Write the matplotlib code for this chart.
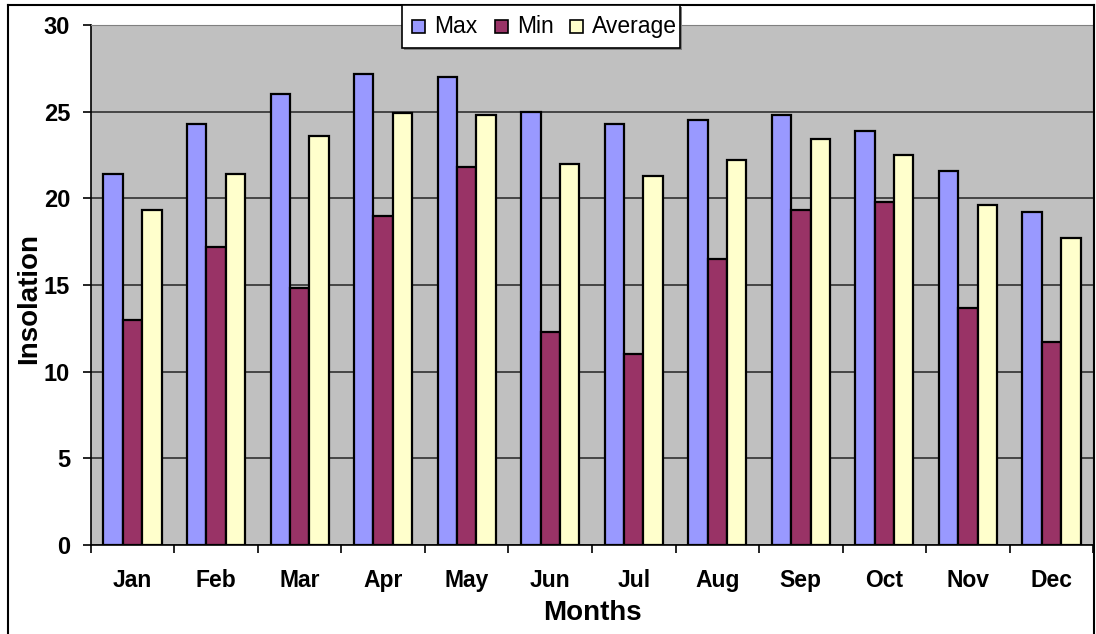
import numpy as np
import matplotlib
matplotlib.use('Agg')
import matplotlib.pyplot as plt
from matplotlib.lines import Line2D
from matplotlib.patches import Rectangle

months = ['Jan', 'Feb', 'Mar', 'Apr', 'May', 'Jun', 'Jul', 'Aug', 'Sep', 'Oct', 'Nov', 'Dec']
insol_max = [21.4, 24.3, 26.0, 27.2, 27.0, 25.0, 24.3, 24.5, 24.8, 23.9, 21.6, 19.2]
insol_min = [13.0, 17.2, 14.8, 19.0, 21.8, 12.3, 11.0, 16.5, 19.3, 19.8, 13.7, 11.7]
insol_avg = [19.3, 21.4, 23.6, 24.9, 24.8, 22.0, 21.3, 22.2, 23.4, 22.5, 19.6, 17.7]

series_names = ['Max', 'Min', 'Average']
series_colors = ['#9999FF', '#993366', '#FFFFCC']

plt.rcParams['font.family'] = ['Liberation Sans', 'DejaVu Sans']

W, H = 1096, 634
fig = plt.figure(figsize=(W/100, H/100), dpi=100)
ax = fig.add_axes([0.083, 0.1404, 0.9143, 0.8202])
ax.set_facecolor('#C0C0C0')

x = np.arange(len(months))
w = 0.2333
for k, vals in enumerate([insol_max, insol_min, insol_avg]):
    ax.bar(x + (k - 1) * w, vals, w, color=series_colors[k], edgecolor='black',
           linewidth=1.6, label=series_names[k], zorder=3)

ax.set_xlim(-0.5, 11.5)
ax.set_ylim(0, 30)
ax.set_yticks(range(0, 31, 5))
ax.yaxis.grid(True, color='#303030', linewidth=1.2, zorder=0)
ax.set_axisbelow(True)

# month names at centres, tick marks between groups
ax.set_xticks(x)
ax.set_xticklabels(months, fontsize=16.5, fontweight='bold')
ax.set_xticks(np.arange(-0.5, 12, 1), minor=True)
ax.tick_params(axis='x', which='major', length=0, pad=17)
ax.tick_params(axis='x', which='minor', length=5.5, width=1.2, direction='out')
ax.tick_params(axis='y', length=6, width=1.2, pad=9, labelsize=17)
for t in ax.get_yticklabels():
    t.set_fontweight('bold')

for s in ['top', 'right']:
    ax.spines[s].set_color('#808080')
for s in ['left', 'bottom']:
    ax.spines[s].set_color('black')
    ax.spines[s].set_linewidth(1.2)

fig.text(592/W, 1-613/H, 'Months', fontsize=20, fontweight='bold', ha='center', va='center')
fig.text(29/W, 1-298/H, 'Insolation', fontsize=20, fontweight='bold', rotation=90,
         ha='center', va='center')

# legend box with a small drop shadow, entries in one row
fig.add_artist(Rectangle((404/W, 1-50/H), 278/W, 43/H, transform=fig.transFigure,
                         facecolor='#808080', edgecolor='none', zorder=4))
fig.add_artist(Rectangle((402/W, 1-48/H), 278/W, 43/H, transform=fig.transFigure,
                         facecolor='white', edgecolor='black', linewidth=1.2, zorder=4.5))
sq_x = [412, 495, 570]
txt_x = [434, 517, 592]
for k in range(3):
    fig.add_artist(Rectangle((sq_x[k]/W, 1-33/H), 13/W, 13/H, transform=fig.transFigure,
                             facecolor=series_colors[k], edgecolor='black', linewidth=1.2, zorder=5))
    fig.text(txt_x[k]/W, 1-33/H, series_names[k], fontsize=16.5, ha='left', va='baseline', zorder=5)

# outer chart border
fig.add_artist(Line2D([8/W, 8/W], [0, 1-5/H], color='black', lw=1.5, transform=fig.transFigure))
fig.add_artist(Line2D([8/W, 1094/W], [1-5/H, 1-5/H], color='black', lw=1.5, transform=fig.transFigure))
fig.add_artist(Line2D([1094/W, 1094/W], [0, 1-5/H], color='black', lw=1.5, transform=fig.transFigure))

fig.savefig('out.png', dpi=100)
